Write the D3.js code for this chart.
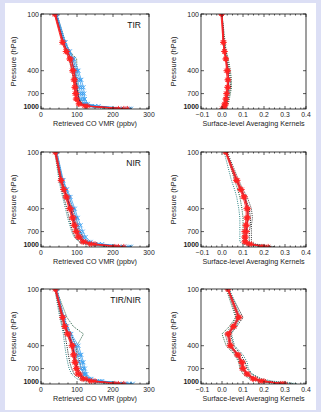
<!DOCTYPE html>
<html>
<head>
<meta charset="utf-8">
<script src="https://cdn.jsdelivr.net/npm/d3@7"></script>
<style>
  html, body { margin: 0; padding: 0; background: #dcdff5; }
  svg { display: block; }
  text { font-family: "Liberation Sans", Arial, sans-serif; fill: #222; }
</style>
</head>
<body>
<svg id="chart" width="321" height="412"></svg>
<script>
// pressure levels (hPa) shared by every profile
const levels = [100, 200, 250, 300, 400, 500, 600, 700, 800, 900, 950, 1013];

const panelNames = ['TIR', 'NIR', 'TIR/NIR'];

// ---- retrieved CO VMR (ppbv) ----
const vmrDotted = [
  [ // TIR
    [40, 62, 72, 80, 88, 92, 95, 98, 102, 112, 135, 200],
    [42, 66, 80, 99, 100, 100, 102, 104, 108, 120, 150, 230],
    [38, 60, 70, 78, 85, 90, 93, 96, 100, 108, 125, 180],
    [44, 68, 80, 90, 95, 98, 100, 102, 106, 115, 140, 220]
  ],
  [ // NIR
    [40, 52, 58, 63, 72, 78, 83, 88, 95, 108, 125, 190],
    [42, 58, 66, 72, 82, 90, 96, 102, 110, 125, 145, 220],
    [38, 50, 55, 60, 68, 74, 80, 85, 92, 105, 120, 180],
    [44, 60, 70, 78, 88, 96, 102, 108, 116, 130, 155, 235]
  ],
  [ // TIR/NIR
    [40, 58, 66, 75, 85, 90, 95, 100, 108, 125, 150, 220],
    [42, 72, 90, 118, 100, 98, 100, 104, 112, 128, 160, 240],
    [38, 52, 58, 62, 66, 70, 74, 78, 85, 100, 120, 190],
    [44, 64, 74, 84, 96, 104, 108, 112, 120, 135, 165, 250],
    [40, 55, 60, 66, 72, 76, 80, 85, 92, 110, 135, 205]
  ]
];
const vmrBlue = [
  [
    [42, 66, 78, 88, 100, 108, 112, 115, 118, 125, 150, 245],
    [40, 63, 74, 84, 95, 102, 106, 110, 112, 120, 140, 230],
    [44, 68, 80, 92, 104, 112, 118, 120, 122, 130, 160, 250]
  ],
  [
    [42, 60, 70, 78, 90, 98, 104, 110, 118, 132, 160, 245],
    [40, 56, 64, 72, 84, 92, 98, 104, 112, 126, 150, 230],
    [44, 62, 72, 82, 94, 102, 110, 116, 124, 138, 170, 250]
  ],
  [
    [42, 62, 70, 80, 98, 108, 114, 118, 122, 135, 165, 245],
    [40, 60, 68, 78, 92, 100, 106, 112, 118, 130, 155, 235],
    [44, 64, 72, 84, 104, 112, 118, 122, 126, 140, 170, 255]
  ]
];
const vmrRed = [
  [
    [38, 60, 70, 80, 88, 92, 94, 96, 98, 105, 125, 230],
    [40, 62, 73, 84, 92, 95, 97, 99, 100, 108, 130, 240],
    [37, 58, 68, 78, 86, 90, 92, 94, 96, 104, 120, 215]
  ],
  [
    [40, 55, 63, 70, 80, 87, 92, 97, 104, 118, 140, 215],
    [42, 58, 66, 74, 85, 92, 97, 102, 110, 124, 150, 230],
    [38, 54, 61, 68, 78, 85, 90, 95, 101, 114, 135, 205]
  ],
  [
    [40, 60, 66, 74, 86, 90, 94, 98, 104, 118, 140, 215],
    [42, 62, 68, 78, 90, 94, 98, 102, 110, 125, 150, 230],
    [38, 58, 64, 72, 84, 88, 92, 96, 100, 114, 135, 205]
  ]
];
const vmrMean = [
  [40, 62, 73, 84, 92, 96, 99, 102, 105, 112, 135, 225],
  [40, 56, 64, 72, 82, 89, 94, 99, 106, 120, 145, 220],
  [40, 60, 67, 76, 88, 92, 96, 100, 106, 120, 145, 220]
];

// ---- surface-level averaging kernels ----
const akDotted = [
  [
    [0.00, 0.010, 0.020, 0.025, 0.035, 0.040, 0.040, 0.035, 0.030, 0.025, 0.020, 0.010],
    [0.00, 0.015, 0.020, 0.030, 0.040, 0.045, 0.045, 0.040, 0.035, 0.030, 0.020, 0.015],
    [0.00, 0.005, 0.010, 0.020, 0.030, 0.035, 0.030, 0.030, 0.025, 0.020, 0.015, 0.010]
  ],
  [
    [0.020, 0.070, 0.090, 0.110, 0.130, 0.135, 0.135, 0.130, 0.130, 0.130, 0.150, 0.250],
    [0.020, 0.060, 0.075, 0.085, 0.095, 0.100, 0.100, 0.100, 0.100, 0.100, 0.120, 0.200],
    [0.010, 0.045, 0.060, 0.070, 0.080, 0.085, 0.085, 0.085, 0.085, 0.085, 0.100, 0.180],
    [0.025, 0.080, 0.100, 0.120, 0.140, 0.145, 0.140, 0.140, 0.140, 0.140, 0.160, 0.240]
  ],
  [
    [0.030, 0.100, 0.070, 0.040, 0.055, 0.090, 0.110, 0.120, 0.140, 0.180, 0.220, 0.340],
    [0.020, 0.065, 0.035, 0.000, 0.020, 0.060, 0.080, 0.085, 0.100, 0.130, 0.170, 0.260],
    [0.035, 0.090, 0.065, 0.045, 0.060, 0.100, 0.120, 0.125, 0.145, 0.190, 0.240, 0.360],
    [0.025, 0.070, 0.045, 0.015, 0.030, 0.065, 0.085, 0.090, 0.110, 0.140, 0.180, 0.270]
  ]
];
const akRed = [
  [
    [0.000, 0.005, 0.010, 0.015, 0.025, 0.030, 0.025, 0.020, 0.020, 0.015, 0.010, 0.005],
    [0.000, 0.010, 0.015, 0.020, 0.030, 0.030, 0.030, 0.025, 0.020, 0.020, 0.015, 0.010],
    [-0.005, 0.005, 0.010, 0.020, 0.020, 0.025, 0.025, 0.020, 0.015, 0.010, 0.010, 0.000]
  ],
  [
    [0.020, 0.070, 0.090, 0.105, 0.120, 0.120, 0.115, 0.110, 0.110, 0.110, 0.130, 0.200],
    [0.020, 0.075, 0.095, 0.110, 0.125, 0.125, 0.120, 0.120, 0.115, 0.115, 0.140, 0.220],
    [0.015, 0.065, 0.085, 0.100, 0.115, 0.115, 0.110, 0.105, 0.105, 0.105, 0.125, 0.190]
  ],
  [
    [0.030, 0.080, 0.055, 0.030, 0.040, 0.075, 0.095, 0.100, 0.120, 0.150, 0.190, 0.290],
    [0.030, 0.085, 0.060, 0.035, 0.045, 0.080, 0.100, 0.105, 0.125, 0.160, 0.200, 0.300],
    [0.025, 0.075, 0.050, 0.025, 0.035, 0.070, 0.090, 0.095, 0.115, 0.145, 0.180, 0.280]
  ]
];
const akMean = [
  [0.000, 0.008, 0.013, 0.020, 0.028, 0.032, 0.030, 0.027, 0.022, 0.018, 0.013, 0.008],
  [0.020, 0.070, 0.090, 0.107, 0.122, 0.124, 0.120, 0.116, 0.114, 0.114, 0.135, 0.210],
  [0.030, 0.080, 0.055, 0.030, 0.040, 0.075, 0.095, 0.100, 0.120, 0.155, 0.190, 0.290]
];

const pTicks = [100, 400, 700, 1000];
const vmrTicks = [0, 100, 200, 300];
const akTicks = [-0.1, 0.0, 0.1, 0.2, 0.3, 0.4];

const dottedColors = ['#111', '#1d5a3a', '#2a8585', '#333', '#111'];

const svg = d3.select('#chart');
svg.append('rect')
  .attr('x', 5).attr('y', 3)
  .attr('width', 311).attr('height', 407)
  .attr('fill', '#fff');

const rowTop = [14, 152, 289];
const plotH = 95;
const cols = [
  {x0: 41, x1: 149, domain: [0, 300], ticks: vmrTicks, minor: 25, fmt: d3.format('d'),
   title: 'Retrieved CO VMR (ppbv)'},
  {x0: 201, x1: 306, domain: [-0.1, 0.4], ticks: akTicks, minor: 0.025, fmt: d3.format('.1f'),
   title: 'Surface-level Averaging Kernels'}
];

function asterisk(g, x, y, r, color) {
  const p = d3.path();
  for (let i = 0; i < 4; i++) {
    const a = i * Math.PI / 4;
    p.moveTo(x - r * Math.cos(a), y - r * Math.sin(a));
    p.lineTo(x + r * Math.cos(a), y + r * Math.sin(a));
  }
  g.append('path').attr('d', p.toString()).attr('stroke', color)
    .attr('stroke-width', 0.9).attr('fill', 'none');
}
function cross(g, x, y, r, color) {
  const p = d3.path();
  p.moveTo(x - r, y - r); p.lineTo(x + r, y + r);
  p.moveTo(x - r, y + r); p.lineTo(x + r, y - r);
  g.append('path').attr('d', p.toString()).attr('stroke', color)
    .attr('stroke-width', 0.9).attr('fill', 'none');
}

function drawPanel(row, colIdx, dotted, blue, red, mean, label) {
  const c = cols[colIdx];
  const top = rowTop[row], bottom = top + plotH;
  const x = d3.scaleLinear().domain(c.domain).range([c.x0, c.x1]);
  const y = d3.scaleLog().domain([100, 1020]).range([top, bottom]);
  const g = svg.append('g');

  const clip = 'clip' + row + colIdx;
  g.append('clipPath').attr('id', clip).append('rect')
    .attr('x', c.x0).attr('y', top).attr('width', c.x1 - c.x0).attr('height', plotH);

  const line = d3.line().x(d => x(d[0])).y(d => y(d[1]));
  const pts = prof => prof.map((v, i) => [v, levels[i]]);
  const data = g.append('g').attr('clip-path', `url(#${clip})`);

  dotted.forEach((prof, i) => {
    data.append('path').attr('d', line(pts(prof)))
      .attr('fill', 'none').attr('stroke', dottedColors[i])
      .attr('stroke-width', 1).attr('stroke-dasharray', '1,1.2');
  });
  blue.forEach(prof => {
    data.append('path').attr('d', line(pts(prof)))
      .attr('fill', 'none').attr('stroke', '#3a9ff0').attr('stroke-width', 0.8);
    pts(prof).forEach(d => cross(data, x(d[0]), y(d[1]), 2, '#3a9ff0'));
  });
  data.append('path').attr('d', line(pts(mean)))
    .attr('fill', 'none').attr('stroke', '#4a1f5e').attr('stroke-width', 1.2);
  red.forEach(prof => {
    data.append('path').attr('d', line(pts(prof)))
      .attr('fill', 'none').attr('stroke', '#f22').attr('stroke-width', 0.9);
    pts(prof).forEach(d => asterisk(data, x(d[0]), y(d[1]), 2.8, '#f22'));
  });

  // frame
  g.append('rect').attr('x', c.x0).attr('y', top)
    .attr('width', c.x1 - c.x0).attr('height', plotH)
    .attr('fill', 'none').attr('stroke', '#111').attr('stroke-width', 0.8);

  // x ticks (inward, bottom and top)
  const minorX = d3.range(c.domain[0], c.domain[1] + 1e-9, c.minor);
  minorX.forEach(v => {
    const major = c.ticks.some(t => Math.abs(t - v) < 1e-9);
    const len = major ? 3 : 1.5;
    g.append('line').attr('x1', x(v)).attr('x2', x(v))
      .attr('y1', bottom).attr('y2', bottom - len).attr('stroke', '#111').attr('stroke-width', 0.7);
    g.append('line').attr('x1', x(v)).attr('x2', x(v))
      .attr('y1', top).attr('y2', top + len).attr('stroke', '#111').attr('stroke-width', 0.7);
  });
  c.ticks.forEach(v => {
    g.append('text').attr('x', x(v) + (colIdx === 1 && v === -0.1 ? 1.5 : 0)).attr('y', bottom + 8.3)
      .attr('text-anchor', 'middle').attr('font-size', 6.8).text(c.fmt(v));
  });
  g.append('text').attr('x', (c.x0 + c.x1) / 2).attr('y', bottom + 17)
    .attr('text-anchor', 'middle').attr('font-size', 7.2).text(c.title);

  // y ticks (left and right)
  pTicks.forEach(v => {
    g.append('line').attr('x1', c.x0).attr('x2', c.x0 + 3)
      .attr('y1', y(v)).attr('y2', y(v)).attr('stroke', '#111').attr('stroke-width', 0.7);
    g.append('line').attr('x1', c.x1).attr('x2', c.x1 - 3)
      .attr('y1', y(v)).attr('y2', y(v)).attr('stroke', '#111').attr('stroke-width', 0.7);
    g.append('text').attr('x', c.x0 - 2).attr('y', y(v) + (v === 1000 ? 0.5 : 2.5))
      .attr('text-anchor', 'end').attr('font-size', 7)
      .attr('font-weight', v === 1000 ? 'bold' : null).text(v);
  });
  g.append('text')
    .attr('transform', `translate(${c.x0 - 25},${(top + bottom) / 2}) rotate(-90)`)
    .attr('text-anchor', 'middle').attr('font-size', 7.4).text('Pressure (hPa)');

  if (label) {
    g.append('text').attr('x', c.x1 - 8).attr('y', top + 14)
      .attr('text-anchor', 'end').attr('font-size', 8.5)
      .style('fill', '#111').text(label);
  }
}

panelNames.forEach((name, r) => {
  drawPanel(r, 0, vmrDotted[r], vmrBlue[r], vmrRed[r], vmrMean[r], name);
  drawPanel(r, 1, akDotted[r], [], akRed[r], akMean[r], null);
});
</script>
</body>
</html>
